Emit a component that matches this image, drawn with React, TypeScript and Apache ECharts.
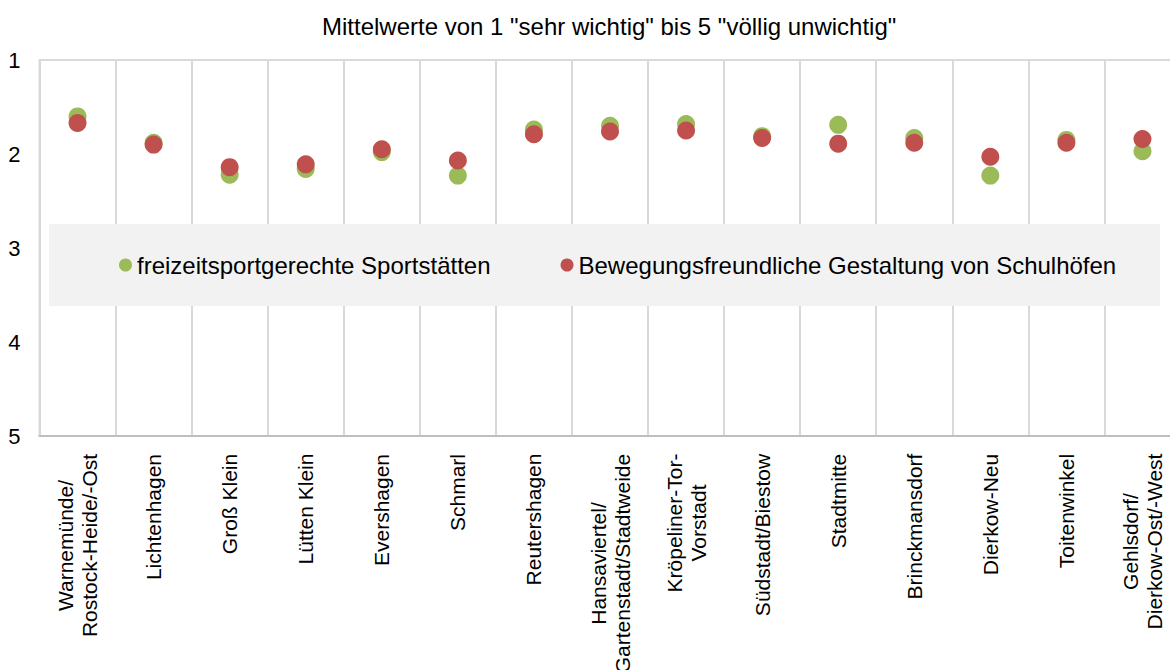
import React, { useEffect, useRef } from "react";
import * as echarts from "echarts";

const categories: string[] = [
  "Warnemünde/\nRostock-Heide/-Ost",
  "Lichtenhagen",
  "Groß Klein",
  "Lütten Klein",
  "Evershagen",
  "Schmarl",
  "Reutershagen",
  "Hansaviertel/\nGartenstadt/Stadtweide",
  "Kröpeliner-Tor-\nVorstadt",
  "Südstadt/Biestow",
  "Stadtmitte",
  "Brinckmansdorf",
  "Dierkow-Neu",
  "Toitenwinkel",
  "Gehlsdorf/\nDierkow-Ost/-West",
];

const seriesNames: string[] = [
  "freizeitsportgerechte Sportstätten",
  "Bewegungsfreundliche Gestaltung von Schulhöfen",
];

const sportstaetten: number[] = [
  1.60, 1.88, 2.22, 2.16, 1.98, 2.23, 1.74, 1.70, 1.68, 1.81, 1.69, 1.83, 2.23, 1.85, 1.97,
];

const schulhoefe: number[] = [
  1.67, 1.90, 2.14, 2.11, 1.95, 2.07, 1.79, 1.76, 1.75, 1.83, 1.89, 1.88, 2.03, 1.88, 1.84,
];

const yTicks: number[] = [1, 2, 3, 4, 5];

const titleText = 'Mittelwerte von 1 "sehr wichtig" bis 5 "völlig unwichtig"';

const FONT = "'Liberation Sans', Arial, sans-serif";
const X_FONT_SIZE = 21;

export default function App() {
  const ref = useRef<HTMLDivElement>(null);

  useEffect(() => {
    document.body.style.margin = "0";
    if (!ref.current) return;
    const chart = echarts.init(ref.current, null, { renderer: "svg" });

    const canvas = document.createElement("canvas");
    const ctx = canvas.getContext("2d");
    const rich: Record<string, any> = {};
    categories.forEach((c, i) => {
      let maxW = 0;
      c.split("\n").forEach((l) => {
        let w = l.length * X_FONT_SIZE * 0.55;
        if (ctx) {
          ctx.font = `${X_FONT_SIZE}px 'Liberation Sans'`;
          w = ctx.measureText(l).width;
        }
        maxW = Math.max(maxW, w);
      });
      rich["c" + i] = {
        width: Math.ceil(maxW) + 1,
        align: "center",
        fontSize: X_FONT_SIZE,
        fontFamily: FONT,
        color: "#000",
        lineHeight: 24,
      };
    });

    const option: any = {
      animation: false,
      backgroundColor: "#fff",
      title: {
        text: titleText,
        left: 322,
        top: 14,
        padding: 0,
        textStyle: {
          fontSize: 24,
          fontWeight: "normal",
          fontFamily: FONT,
          color: "#000",
        },
      },
      graphic: [
        {
          type: "rect",
          z: 3,
          shape: { x: 49, y: 224, width: 1111, height: 82 },
          style: { fill: "#F2F2F2" },
        },
      ],
      legend: {
        data: seriesNames,
        left: 119,
        top: 253,
        padding: 0,
        itemGap: 70,
        itemWidth: 13,
        itemHeight: 13,
        icon: "circle",
        z: 5,
        textStyle: {
          fontSize: 24,
          fontFamily: FONT,
          color: "#000",
        },
      },
      grid: {
        left: 39.5,
        top: 60,
        width: 1141,
        height: 376,
        show: true,
        borderColor: "#D9D9D9",
        borderWidth: 2,
        backgroundColor: "transparent",
        containLabel: false,
        outerBoundsMode: "none",
      },
      xAxis: {
        type: "category",
        data: categories,
        boundaryGap: true,
        axisLine: { show: true, lineStyle: { color: "#BFBFBF", width: 2 } },
        axisTick: { show: false },
        splitLine: {
          show: true,
          interval: 0,
          lineStyle: { color: "#D9D9D9", width: 2 },
        },
        axisLabel: {
          interval: 0,
          rotate: 90,
          margin: 17,
          fontSize: X_FONT_SIZE,
          fontFamily: FONT,
          color: "#000",
          hideOverlap: false,
          formatter: (value: string, index: number) =>
            value
              .split("\n")
              .map((l) => `{c${index}|${l}}`)
              .join("\n"),
          rich,
        },
      },
      yAxis: {
        type: "value",
        min: yTicks[0],
        max: yTicks[yTicks.length - 1],
        interval: 1,
        inverse: true,
        axisLine: { show: true, lineStyle: { color: "#D9D9D9", width: 2 } },
        axisTick: { show: false },
        splitLine: { show: false },
        axisLabel: {
          margin: 19,
          fontSize: 22,
          fontFamily: FONT,
          color: "#000",
        },
      },
      series: [
        {
          name: seriesNames[0],
          type: "scatter",
          data: sportstaetten,
          symbol: "circle",
          symbolSize: 18,
          itemStyle: { color: "#9BBB59", opacity: 1 },
          z: 2,
        },
        {
          name: seriesNames[1],
          type: "scatter",
          data: schulhoefe,
          symbol: "circle",
          symbolSize: 18,
          itemStyle: { color: "#C0504D", opacity: 1 },
          z: 2,
        },
      ],
    };

    chart.setOption(option);
    return () => chart.dispose();
  }, []);

  return <div ref={ref} style={{ width: 1170, height: 670 }} />;
}
